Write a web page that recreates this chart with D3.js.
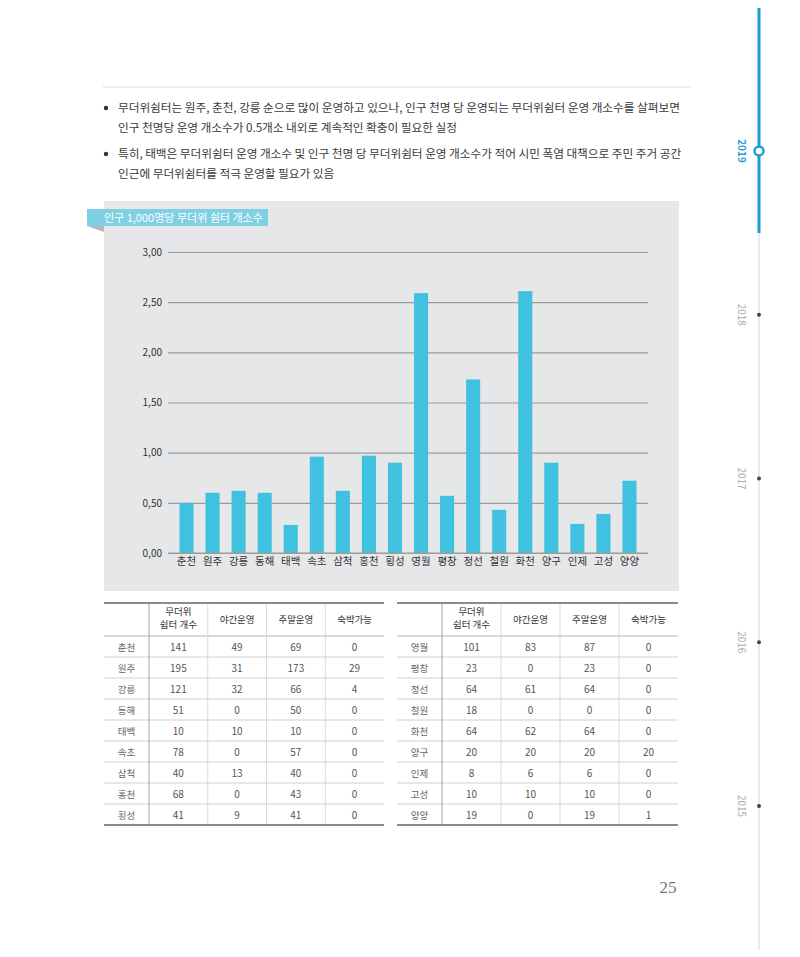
<!DOCTYPE html>
<html>
<head>
<meta charset="utf-8">
<script src="https://cdn.jsdelivr.net/npm/d3@7"></script>
<style>
  body { margin: 0; background: #fff; }
  svg text { font-family: "Noto Sans CJK KR", "Noto Sans", sans-serif; }
</style>
</head>
<body>
<div id="page"></div>
<script>
////////////////////////////////////////////////////////////////////////
// data
////////////////////////////////////////////////////////////////////////
var regions = ["춘천", "원주", "강릉", "동해", "태백", "속초", "삼척", "홍천", "횡성",
               "영월", "평창", "정선", "철원", "화천", "양구", "인제", "고성", "양양"];
var perThousand = [0.50, 0.60, 0.62, 0.60, 0.28, 0.96, 0.62, 0.97, 0.90,
                   2.59, 0.57, 1.73, 0.43, 2.61, 0.90, 0.29, 0.39, 0.72];
var yTicks = [0, 0.5, 1, 1.5, 2, 2.5, 3];

var tableHeaders = ["무더위|쉼터 개수", "야간운영", "주말운영", "숙박가능"];
var shelterCount = [141, 195, 121, 51, 10, 78, 40, 68, 41, 101, 23, 64, 18, 64, 20, 8, 10, 19];
var nightOpen    = [49, 31, 32, 0, 10, 0, 13, 0, 9, 83, 0, 61, 0, 62, 20, 6, 10, 0];
var weekendOpen  = [69, 173, 66, 50, 10, 57, 40, 43, 41, 87, 23, 64, 0, 64, 20, 6, 10, 19];
var overnight    = [0, 29, 4, 0, 0, 0, 0, 0, 0, 0, 0, 0, 0, 0, 20, 0, 0, 1];

var chartTitle = "인구 1,000명당 무더위 쉼터 개소수";
var bullets = [
  ["무더위쉼터는 원주, 춘천, 강릉 순으로 많이 운영하고 있으나, 인구 천명 당 운영되는 무더위쉼터 운영 개소수를 살펴보면",
   "인구 천명당 운영 개소수가 0.5개소 내외로 계속적인 확충이 필요한 실정"],
  ["특히, 태백은 무더위쉼터 운영 개소수 및 인구 천명 당 무더위쉼터 운영 개소수가 적어 시민 폭염 대책으로 주민 주거 공간",
   "인근에 무더위쉼터를 적극 운영할 필요가 있음"]
];
var years = ["2019", "2018", "2017", "2016", "2015"];
var pageNumber = "25";


var svg = d3.select("#page").append("svg")
  .attr("width", 800)
  .attr("height", 957);


////////////////////////////////////////////////////////////////////////
// text block above the chart
////////////////////////////////////////////////////////////////////////
function drawIntro()
  {
  svg.append("line")
    .attr("x1", 103).attr("x2", 691)
    .attr("y1", 87).attr("y2", 87)
    .attr("stroke", "#d9d9d9").attr("stroke-width", 1);

  var lineY = [112, 132, 158, 178];
  var k = 0;
  bullets.forEach(function(b)
    {
    svg.append("circle")
      .attr("cx", 106).attr("cy", lineY[k] - 4)
      .attr("r", 2.2).attr("fill", "#333");

    b.forEach(function(t)
      {
      svg.append("text")
        .attr("x", 118).attr("y", lineY[k])
        .attr("font-size", 11.7)
        .attr("letter-spacing", -0.05)
        .attr("fill", "#3a3a3a")
        .text(t);
      k++;
      });
    });
  }


////////////////////////////////////////////////////////////////////////
// bar chart panel
////////////////////////////////////////////////////////////////////////
function drawChart()
  {
  //grey panel and the little cyan tab
  svg.append("rect")
    .attr("x", 104).attr("y", 201)
    .attr("width", 575).attr("height", 390)
    .attr("fill", "#e6e7e8");

  svg.append("polygon")
    .attr("points", "87,226 104,226 104,232")
    .attr("fill", "#b5b6b8");

  svg.append("rect")
    .attr("x", 87).attr("y", 209)
    .attr("width", 181).attr("height", 17)
    .attr("fill", "#7fd0e2");

  svg.append("text")
    .attr("x", 104).attr("y", 222)
    .attr("font-size", 11)
    .attr("fill", "#fff")
    .text(chartTitle);

  var x = d3.scaleBand()
    .domain(regions)
    .range([168, 648])
    .paddingInner(0.46)
    .paddingOuter(0.44);

  var y = d3.scaleLinear()
    .domain([0, 3])
    .range([553, 252]);

  // gridlines + tick labels
  var yAxis = d3.axisLeft(y)
    .tickValues(yTicks)
    .tickSize(-480)
    .tickPadding(6)
    .tickFormat(function(d) { return d3.format(".2f")(d).replace(".", ","); });

  var gy = svg.append("g")
    .attr("transform", "translate(168,0)")
    .call(yAxis);

  gy.select(".domain").remove();
  gy.selectAll(".tick line")
    .attr("stroke", "#9c9c9c")
    .attr("stroke-width", 1.2);
  gy.selectAll(".tick text")
    .attr("font-size", 10)
    .attr("fill", "#333")
    .attr("x", -6);

  svg.append("g")
    .selectAll("rect")
    .data(perThousand)
    .enter()
    .append("rect")
    .attr("x", function(d, i) { return x(regions[i]); })
    .attr("y", function(d) { return y(d); })
    .attr("width", x.bandwidth())
    .attr("height", function(d) { return y(0) - y(d); })
    .attr("fill", "#40c1df");

  // redraw the zero line over the bars
  svg.append("line")
    .attr("x1", 168).attr("x2", 648)
    .attr("y1", y(0)).attr("y2", y(0))
    .attr("stroke", "#9c9c9c").attr("stroke-width", 1.2);

  var xAxis = d3.axisBottom(x).tickSize(0).tickPadding(5);
  var gx = svg.append("g")
    .attr("transform", "translate(0," + y(0) + ")")
    .call(xAxis);
  gx.select(".domain").remove();
  gx.selectAll(".tick text")
    .attr("font-size", 10.5)
    .attr("fill", "#333");
  }


////////////////////////////////////////////////////////////////////////
// the two tables under the chart
////////////////////////////////////////////////////////////////////////
function drawTable(left, right, nameWidth, start)
  {
  var rowNames = regions.slice(start, start + 9);
  var cols = d3.scaleBand()
    .domain(tableHeaders)
    .range([left + nameWidth, right]);

  var rows = d3.scaleBand()
    .domain(rowNames)
    .range([636, 825]);

  var g = svg.append("g");

  //row rules
  rowNames.forEach(function(r, i)
    {
    if(i === 0) return;
    g.append("line")
      .attr("x1", left).attr("x2", right)
      .attr("y1", rows(r)).attr("y2", rows(r))
      .attr("stroke", "#c4c4c4").attr("stroke-width", 0.8);
    });

  g.append("line")
    .attr("x1", left).attr("x2", right)
    .attr("y1", 636).attr("y2", 636)
    .attr("stroke", "#aaa").attr("stroke-width", 0.9);

  //column rules
  g.append("line")
    .attr("x1", left + nameWidth).attr("x2", left + nameWidth)
    .attr("y1", 603).attr("y2", 825)
    .attr("stroke", "#999").attr("stroke-width", 0.9);

  tableHeaders.slice(1).forEach(function(h)
    {
    g.append("line")
      .attr("x1", cols(h)).attr("x2", cols(h))
      .attr("y1", 603).attr("y2", 825)
      .attr("stroke", "#d2d2d2").attr("stroke-width", 0.8);
    });

  //top and bottom heavy rules
  [603, 825].forEach(function(yy)
    {
    g.append("line")
      .attr("x1", left).attr("x2", right)
      .attr("y1", yy).attr("y2", yy)
      .attr("stroke", "#8c8c8c").attr("stroke-width", 2);
    });

  //headers
  tableHeaders.forEach(function(h)
    {
    var parts = h.split("|");
    var cx = cols(h) + cols.bandwidth() / 2;
    var y0 = parts.length > 1 ? 615 : 623;
    parts.forEach(function(p, j)
      {
      g.append("text")
        .attr("x", cx).attr("y", y0 + j * 13)
        .attr("text-anchor", "middle")
        .attr("font-size", 9.5)
        .attr("fill", "#333")
        .text(p);
      });
    });

  var series = [shelterCount, nightOpen, weekendOpen, overnight];

  rowNames.forEach(function(r, i)
    {
    var cy = rows(r) + rows.bandwidth() / 2 + 4;

    g.append("text")
      .attr("x", left + nameWidth / 2).attr("y", cy)
      .attr("text-anchor", "middle")
      .attr("font-size", 9.5)
      .attr("fill", "#666")
      .text(r);

    series.forEach(function(s, c)
      {
      g.append("text")
        .attr("x", cols(tableHeaders[c]) + cols.bandwidth() / 2).attr("y", cy)
        .attr("text-anchor", "middle")
        .attr("font-size", 10)
        .attr("fill", "#555")
        .text(s[start + i]);
      });
    });
  }


////////////////////////////////////////////////////////////////////////
// year timeline on the right edge + page number
////////////////////////////////////////////////////////////////////////
function drawTimeline()
  {
  var ty = d3.scalePoint()
    .domain(years)
    .range([151, 806]);

  svg.append("line")
    .attr("x1", 759).attr("x2", 759)
    .attr("y1", 8).attr("y2", 950)
    .attr("stroke", "#dcdcdc").attr("stroke-width", 1.2);

  svg.append("line")
    .attr("x1", 759).attr("x2", 759)
    .attr("y1", 8).attr("y2", 233)
    .attr("stroke", "#1a9fd1").attr("stroke-width", 3);

  years.forEach(function(yr, i)
    {
    var cy = ty(yr);
    if(i === 0)
      {
      svg.append("circle")
        .attr("cx", 759).attr("cy", cy).attr("r", 4.5)
        .attr("fill", "#fff")
        .attr("stroke", "#1a9fd1").attr("stroke-width", 2.5);
      }
    else
      {
      svg.append("circle")
        .attr("cx", 759).attr("cy", cy).attr("r", 2)
        .attr("fill", "#444");
      }

    svg.append("text")
      .attr("transform", "translate(738," + cy + ") rotate(90)")
      .attr("text-anchor", "middle")
      .attr("font-size", 10)
      .attr("font-weight", i === 0 ? "bold" : "normal")
      .attr("fill", i === 0 ? "#1a9fd1" : "#aaa")
      .text(yr);
    });

  svg.append("text")
    .attr("x", 668).attr("y", 893)
    .attr("text-anchor", "middle")
    .style("font-family", "'Liberation Serif', serif")
    .attr("font-size", 17)
    .attr("fill", "#777")
    .text(pageNumber);
  }


drawIntro();
drawChart();
drawTable(104, 384, 45, 0);
drawTable(397, 678, 45, 9);
drawTimeline();
</script>
</body>
</html>
